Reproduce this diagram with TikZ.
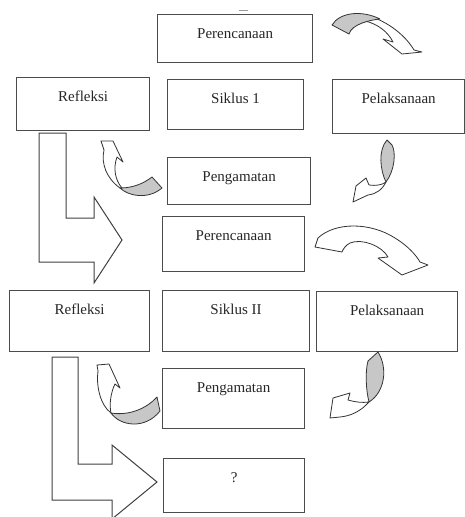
\documentclass[tikz,border=0pt]{standalone}
\usepackage{fontspec}
\setmainfont{Liberation Serif}
\usetikzlibrary{positioning}

\begin{document}
\begin{tikzpicture}[x=1pt, y=-1pt,
    kotak/.style={draw=black!70, line width=1.2pt, anchor=north west, inner sep=0pt},
    judul/.style={anchor=base, text=black!85, font=\fontsize{15}{18}\selectfont},
    panah/.style={draw=black!80, line width=0.8pt, fill=white, line join=round},
    lipat/.style={panah, fill=black!22},
    belok/.style={draw=black!75, line width=1pt, fill=white, line join=miter}]
    \useasboundingbox (0,0) rectangle (465,517);
    \clip (0,0) rectangle (465,517);

    \foreach \nm/\x/\y/\w/\h/\teks in {
        ren1/157/14/155/48/Perencanaan, ref1/16/77/133/53/Refleksi,
        sik1/167/79/136/50/Siklus 1, lak1/332/79/132/54/Pelaksanaan,
        ama1/167/157/143/47/Pengamatan, ren2/162/216/142/55/Perencanaan,
        ref2/9/290/140/61/Refleksi, sik2/162/290/147/61/Siklus II,
        lak2/316/291/141/60/Pelaksanaan, ama2/162/368/142/60/Pengamatan,
        tanya/163/458/141/54/?}
    {
        \node[kotak, minimum width=\w pt, minimum height=\h pt] (\nm) at (\x,\y) {};
        \node[judul] (t\nm) at ([yshift=-24pt]\nm.north) {\teks};
    }
    \draw[black!40, line width=0.8pt] (239,10) -- (248,10);

    % panah siku
    \draw[belok] (39,133) -- (66,133) -- (66,218) -- (94,218) -- (94,197) -- (122,240)
        -- (94,283) -- (94,262) -- (39,262) -- cycle;
    \draw[belok] (52,357) -- (78,357) -- (78,464) -- (112,464) -- (112,445) -- (157,482)
        -- (112,519) -- (112,500) -- (52,500) -- cycle;

    % panah lengkung
    \draw[panah] (372,17) .. controls (392,24) and (407,38) .. (414,50) -- (422,52) -- (402,54)
        -- (383,39) -- (393,42) .. controls (388,32) and (378,24) .. (365,21) -- cycle;
    \draw[lipat] (332,25) .. controls (340,12) and (362,10) .. (380,19)
        .. controls (370,20) and (352,24) .. (349,34) -- cycle;

    \draw[panah] (386,182) .. controls (382,190) and (376,194) .. (368,195) -- (353,202) -- (356,186)
        -- (366,178) -- (369,185) .. controls (376,186) and (382,185) .. (386,182) -- cycle;
    \draw[lipat] (387,140) .. controls (378,150) and (380,170) .. (386,182)
        .. controls (395,170) and (396,152) .. (392,145) -- cycle;

    \draw[panah] (120,188) .. controls (106,178) and (101,163) .. (104,150) -- (101,141) -- (113,141)
        -- (123,162) -- (117,157) .. controls (113,168) and (115,180) .. (122,188) -- cycle;
    \draw[lipat] (152,177) .. controls (143,184) and (132,188) .. (120,188)
        .. controls (128,196) and (148,200) .. (162,188) -- cycle;

    \draw[panah] (318,238) .. controls (335,222) and (370,222) .. (395,238)
        .. controls (408,246) and (416,255) .. (420,262) -- (428,265) -- (402,275) -- (378,258)
        -- (388,257) .. controls (382,246) and (362,238) .. (350,243)
        .. controls (346,245) and (343,249) .. (342,252) -- (315,247) -- cycle;

    \draw[panah] (369,402) .. controls (360,412) and (350,416) .. (340,417) -- (330,418) -- (333,398)
        -- (350,393) -- (348,400) .. controls (355,402) and (362,403) .. (369,402) -- cycle;
    \draw[lipat] (378,352) -- (368,361) .. controls (365,372) and (366,390) .. (369,402)
        .. controls (385,392) and (388,368) .. (378,352) -- cycle;

    \draw[panah] (111,413) .. controls (100,405) and (96,385) .. (98,371) -- (97,365) -- (109,364)
        -- (120,388) -- (115,384) .. controls (111,392) and (109,404) .. (111,413) -- cycle;
    \draw[lipat] (157,397) .. controls (147,408) and (130,416) .. (111,413)
        .. controls (120,426) and (145,430) .. (160,411) -- cycle;
\end{tikzpicture}
\end{document}
